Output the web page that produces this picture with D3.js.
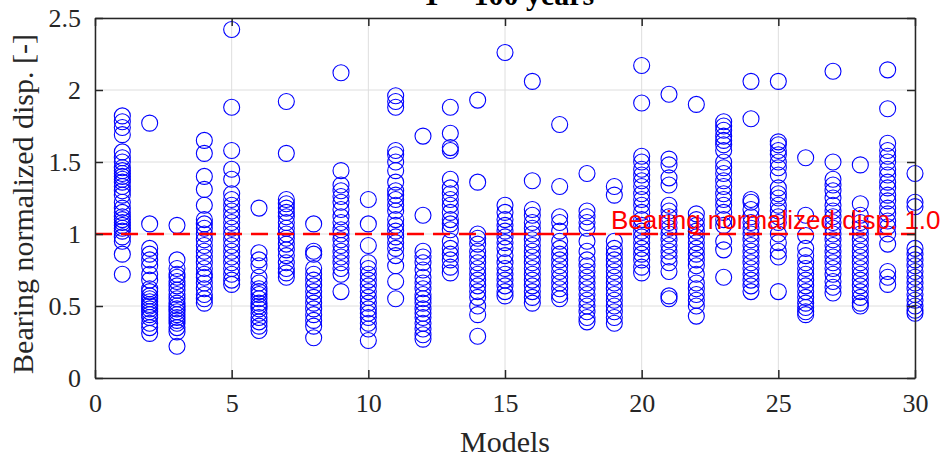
<!DOCTYPE html>
<html>
<head>
<meta charset="utf-8">
<script src="https://cdn.jsdelivr.net/npm/d3@7"></script>
<style>
  html, body { margin: 0; padding: 0; background: #fff; }
  svg { display: block; }
</style>
</head>
<body>
<svg id="chart" width="951" height="465"></svg>
<script>
// ---------------- data ----------------
const titleText = "T = 100 years";
const xLabel = "Models";
const yLabel = "Bearing normalized disp. [-]";
const thresholdValue = 1.0;
const thresholdLabel = "Bearing normalized disp. 1.0";
const xTicks = [0, 5, 10, 15, 20, 25, 30];
const yTicks = [0, 0.5, 1, 1.5, 2, 2.5];
const models = d3.range(1, 31);
const modelValues = [
  [1.82,1.78,1.74,1.69,1.57,1.53,1.5,1.46,1.44,1.42,1.4,1.38,1.36,1.33,1.3,1.27,1.22,1.18,1.15,1.12,1.1,1.08,1.06,1.04,1.02,0.98,0.95,0.86,0.72],
  [1.77,1.07,0.9,0.86,0.82,0.78,0.72,0.68,0.62,0.6,0.57,0.55,0.53,0.51,0.5,0.48,0.46,0.44,0.42,0.38,0.35,0.31],
  [1.06,0.82,0.76,0.72,0.7,0.67,0.64,0.61,0.58,0.55,0.52,0.5,0.48,0.46,0.44,0.42,0.4,0.38,0.35,0.32,0.22],
  [1.65,1.56,1.4,1.31,1.2,1.1,1.07,1.04,1.0,0.96,0.92,0.88,0.84,0.8,0.76,0.72,0.7,0.66,0.62,0.58,0.55,0.52],
  [2.42,1.88,1.58,1.45,1.38,1.28,1.24,1.2,1.16,1.12,1.08,1.04,1.0,0.96,0.92,0.88,0.84,0.8,0.76,0.72,0.68,0.65],
  [1.18,0.87,0.82,0.78,0.7,0.66,0.62,0.6,0.58,0.55,0.52,0.5,0.48,0.45,0.42,0.39,0.36,0.33],
  [1.92,1.56,1.24,1.21,1.18,1.15,1.12,1.08,1.04,1.0,0.97,0.93,0.89,0.85,0.8,0.76,0.73,0.7],
  [1.07,0.88,0.86,0.76,0.72,0.68,0.64,0.6,0.56,0.52,0.48,0.44,0.4,0.36,0.28],
  [2.12,1.44,1.34,1.3,1.26,1.22,1.17,1.12,1.08,1.03,1.0,0.96,0.92,0.88,0.84,0.8,0.76,0.72,0.6],
  [1.24,1.07,0.92,0.8,0.76,0.72,0.68,0.64,0.6,0.56,0.52,0.48,0.45,0.42,0.38,0.34,0.26],
  [1.96,1.92,1.88,1.58,1.55,1.5,1.44,1.36,1.3,1.27,1.24,1.2,1.16,1.1,1.06,1.02,0.98,0.94,0.9,0.85,0.78,0.67,0.55],
  [1.68,1.13,0.88,0.84,0.8,0.75,0.7,0.66,0.62,0.58,0.55,0.52,0.48,0.45,0.42,0.38,0.34,0.3,0.27],
  [1.88,1.7,1.6,1.58,1.38,1.32,1.28,1.24,1.2,1.15,1.1,1.07,1.03,0.95,0.9,0.86,0.82,0.77,0.73],
  [1.93,1.36,1.0,0.97,0.93,0.88,0.84,0.8,0.76,0.72,0.68,0.64,0.6,0.56,0.5,0.44,0.29],
  [2.26,1.2,1.15,1.1,1.06,1.02,0.98,0.94,0.9,0.85,0.8,0.76,0.72,0.68,0.64,0.6,0.57],
  [2.06,1.37,1.17,1.13,1.08,1.04,1.0,0.96,0.92,0.88,0.84,0.8,0.76,0.72,0.68,0.64,0.6,0.56,0.52],
  [1.76,1.33,1.12,1.08,1.02,0.95,0.9,0.86,0.82,0.78,0.74,0.7,0.66,0.62,0.58,0.55],
  [1.42,1.16,1.12,1.08,1.04,0.95,0.88,0.82,0.78,0.74,0.7,0.66,0.62,0.58,0.54,0.5,0.46,0.42,0.39],
  [1.33,1.27,0.95,0.9,0.86,0.82,0.78,0.74,0.7,0.66,0.62,0.58,0.54,0.5,0.46,0.42,0.38],
  [2.17,1.91,1.54,1.5,1.45,1.41,1.37,1.33,1.28,1.24,1.2,1.15,1.1,1.06,1.02,0.98,0.94,0.9,0.86,0.82,0.77,0.73],
  [1.97,1.52,1.48,1.39,1.34,1.2,1.16,1.12,1.08,1.04,1.0,0.96,0.92,0.88,0.84,0.8,0.74,0.57,0.55],
  [1.9,1.14,1.1,1.06,1.02,0.98,0.94,0.9,0.86,0.82,0.78,0.72,0.66,0.62,0.58,0.54,0.5,0.43],
  [1.78,1.75,1.72,1.68,1.65,1.62,1.58,1.5,1.46,1.42,1.37,1.33,1.28,1.24,1.2,1.15,1.1,1.06,0.95,0.89,0.7],
  [2.06,1.8,1.24,1.22,1.17,1.12,1.08,1.04,1.0,0.96,0.92,0.88,0.84,0.8,0.76,0.72,0.68,0.64,0.6],
  [2.06,1.64,1.62,1.58,1.55,1.5,1.46,1.41,1.32,1.28,1.25,1.2,1.16,1.12,1.08,1.0,0.94,0.88,0.84,0.6],
  [1.53,1.13,0.99,0.9,0.85,0.8,0.76,0.72,0.68,0.64,0.6,0.56,0.52,0.49,0.46,0.44],
  [2.13,1.5,1.38,1.34,1.3,1.25,1.2,1.16,1.12,1.08,1.04,1.0,0.96,0.92,0.88,0.84,0.8,0.76,0.72,0.67,0.63,0.59],
  [1.48,1.21,1.13,1.08,1.04,1.0,0.96,0.92,0.88,0.84,0.8,0.76,0.72,0.68,0.64,0.6,0.56,0.52,0.5],
  [2.14,1.87,1.63,1.58,1.54,1.5,1.45,1.41,1.36,1.32,1.27,1.23,1.18,1.14,1.09,1.05,1.0,0.93,0.74,0.7,0.65],
  [1.42,1.22,1.19,0.9,0.86,0.82,0.78,0.74,0.7,0.66,0.62,0.58,0.54,0.5,0.47,0.45]
];

// ---------------- layout ----------------
const svg = d3.select("#chart");
const L = 95, R = 915, T = 18, B = 378;
const x = d3.scaleLinear().domain([0, 30]).range([L, R]);
const y = d3.scaleLinear().domain([0, 2.5]).range([B, T]);
const axisColor = "#262626";
const serif = "'Liberation Serif', 'Times New Roman', serif";
const sans = "'Liberation Sans', Arial, sans-serif";

// grid
const grid = svg.append("g");
grid.selectAll("line.gx").data(xTicks).join("line")
  .attr("x1", d => x(d)).attr("x2", d => x(d)).attr("y1", T).attr("y2", B)
  .attr("stroke", "#dedede").attr("stroke-width", 1);
grid.selectAll("line.gy").data(yTicks).join("line")
  .attr("y1", d => y(d)).attr("y2", d => y(d)).attr("x1", L).attr("x2", R)
  .attr("stroke", "#dedede").attr("stroke-width", 1);

// points
const pts = [];
models.forEach((m, i) => modelValues[i].forEach(v => pts.push({m, v})));
svg.append("g").selectAll("circle").data(pts).join("circle")
  .attr("cx", d => x(d.m)).attr("cy", d => y(d.v)).attr("r", 8)
  .attr("fill", "none").attr("stroke", "#0000ff").attr("stroke-width", 1.1);

// threshold line
svg.append("line")
  .attr("x1", x(0)).attr("x2", x(30)).attr("y1", y(thresholdValue)).attr("y2", y(thresholdValue))
  .attr("stroke", "#ff0000").attr("stroke-width", 2.5).attr("stroke-dasharray", "17,9");
svg.append("text")
  .attr("x", 611).attr("y", y(thresholdValue) - 5)
  .attr("font-family", sans).attr("font-size", 26).attr("fill", "#ff0000")
  .text(thresholdLabel);

// axes (box with inward ticks)
const axes = svg.append("g");
const tickLen = 8;
axes.append("g").attr("transform", `translate(0,${B})`)
  .call(d3.axisBottom(x).tickValues(xTicks).tickSizeInner(-tickLen).tickSizeOuter(0).tickPadding(16).tickFormat(d3.format("d")));
axes.append("g").attr("transform", `translate(0,${T})`)
  .call(d3.axisTop(x).tickValues(xTicks).tickSizeInner(-tickLen).tickSizeOuter(0).tickFormat(""));
axes.append("g").attr("transform", `translate(${L},0)`)
  .call(d3.axisLeft(y).tickValues(yTicks).tickSizeInner(-tickLen).tickSizeOuter(0).tickPadding(14).tickFormat(d => d === 0 ? "0" : d3.format("")(d)));
axes.append("g").attr("transform", `translate(${R},0)`)
  .call(d3.axisRight(y).tickValues(yTicks).tickSizeInner(-tickLen).tickSizeOuter(0).tickFormat(""));
axes.selectAll(".domain").attr("stroke", axisColor).attr("stroke-width", 1.5);
axes.selectAll(".tick line").attr("stroke", axisColor).attr("stroke-width", 1.5);
axes.selectAll(".tick text").attr("fill", axisColor).attr("font-family", serif).attr("font-size", 26);

// labels
svg.append("text").attr("x", (L + R) / 2).attr("y", 452).attr("text-anchor", "middle")
  .attr("font-family", serif).attr("font-size", 30).attr("fill", axisColor).text(xLabel);
svg.append("text").attr("transform", `translate(33,204) rotate(-90)`).attr("text-anchor", "middle")
  .attr("font-family", serif).attr("font-size", 30).attr("fill", axisColor).text(yLabel);
svg.append("text").attr("x", 508).attr("y", 5).attr("text-anchor", "middle")
  .attr("font-family", serif).attr("font-size", 30).attr("font-weight", "bold").attr("fill", "#000").text(titleText);
</script>
</body>
</html>
